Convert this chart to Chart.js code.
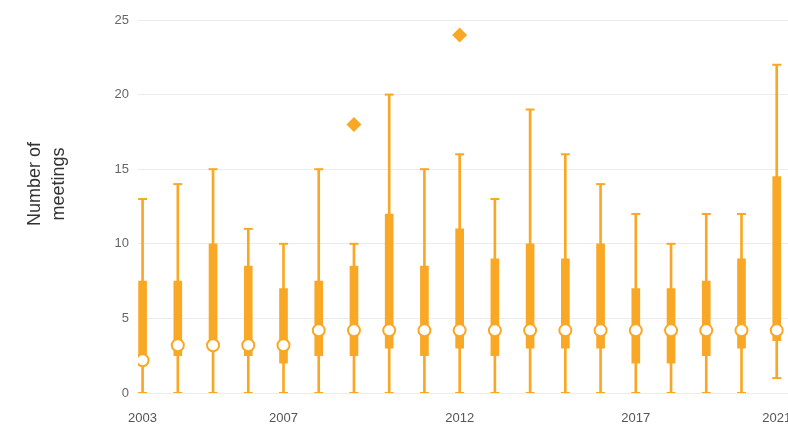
<!DOCTYPE html>
<html>
<head>
<meta charset="utf-8">
<script src="https://cdn.jsdelivr.net/npm/chart.js@4"></script>
<style>
  html, body { margin: 0; padding: 0; background: #fff; overflow: hidden; }
  #wrap { width: 788px; height: 426px; }
</style>
</head>
<body>
<div id="wrap"><canvas id="meetingsChart"></canvas></div>
<script>
// Yearly distribution of meetings (box plot)
var years   = [2003, 2004, 2005, 2006, 2007, 2008, 2009, 2010, 2011, 2012, 2013, 2014, 2015, 2016, 2017, 2018, 2019, 2020, 2021];
var mins    = [0, 0, 0, 0, 0, 0, 0, 0, 0, 0, 0, 0, 0, 0, 0, 0, 0, 0, 1];
var q1s     = [2, 2.5, 3, 2.5, 2, 2.5, 2.5, 3, 2.5, 3, 2.5, 3, 3, 3, 2, 2, 2.5, 3, 3.5];
var medians = [2.2, 3.2, 3.2, 3.2, 3.2, 4.2, 4.2, 4.2, 4.2, 4.2, 4.2, 4.2, 4.2, 4.2, 4.2, 4.2, 4.2, 4.2, 4.2];
var q3s     = [7.5, 7.5, 10, 8.5, 7, 7.5, 8.5, 12, 8.5, 11, 9, 10, 9, 10, 7, 7, 7.5, 9, 14.5];
var maxs    = [13, 14, 15, 11, 10, 15, 10, 20, 15, 16, 13, 19, 16, 14, 12, 10, 12, 12, 22];

var outlierYears  = [2009, 2012];
var outlierValues = [18, 24];

var tickYears = [2003, 2007, 2012, 2017, 2021];
var yTitle = ['Number of', 'meetings'];

var orange = '#f9a825';
var fontFamily = '"Liberation Sans", Arial, sans-serif';

var whiskerData = years.map((yr, i) => ({ x: yr, y: [mins[i], maxs[i]] }));
var boxData = years.map((yr, i) => ({ x: yr, y: [q1s[i], q3s[i]] }));
var capData = years.map((yr, i) => ({ x: yr, y: mins[i] }))
    .concat(years.map((yr, i) => ({ x: yr, y: maxs[i] })));
var medianData = years.map((yr, i) => ({ x: yr, y: medians[i] }));
var outlierData = outlierYears.map((yr, i) => ({ x: yr, y: outlierValues[i] }));

// Rotated two-line axis title on the left
var axisTitle = {
    id: 'axisTitle',
    afterDraw(chart) {
        const ctx = chart.ctx;
        ctx.save();
        ctx.translate(47, 184);
        ctx.rotate(-Math.PI / 2);
        ctx.font = '18px ' + fontFamily;
        ctx.fillStyle = '#333';
        ctx.textAlign = 'center';
        ctx.textBaseline = 'middle';
        ctx.fillText(yTitle[0], 0, -12);
        ctx.fillText(yTitle[1], 0, 12);
        ctx.restore();
    }
};

new Chart(document.getElementById('meetingsChart'), {
    type: 'bar',
    data: {
        datasets: [{
            type: 'bar',
            data: whiskerData,
            backgroundColor: orange,
            barThickness: 2,
            grouped: false,
            order: 5
        }, {
            type: 'bar',
            data: boxData,
            backgroundColor: orange,
            barThickness: 8,
            grouped: false,
            order: 4
        }, {
            type: 'scatter',
            data: capData,
            pointStyle: 'line',
            pointRadius: 4.5,
            borderColor: orange,
            borderWidth: 2,
            order: 3
        }, {
            type: 'scatter',
            data: medianData,
            pointStyle: 'circle',
            pointRadius: 6,
            backgroundColor: '#fff',
            borderColor: orange,
            borderWidth: 2,
            order: 2
        }, {
            type: 'scatter',
            data: outlierData,
            pointStyle: 'rectRot',
            pointRadius: 7.5,
            backgroundColor: orange,
            borderWidth: 0,
            order: 1
        }]
    },
    options: {
        responsive: true,
        maintainAspectRatio: false,
        animation: false,
        layout: {
            autoPadding: false,
            padding: { top: 20, right: 0, bottom: 0, left: 0 }
        },
        plugins: {
            legend: { display: false },
            tooltip: { enabled: false }
        },
        scales: {
            x: {
                type: 'linear',
                offset: false,
                min: 2002.87,
                max: 2021.32,
                grid: { display: false },
                border: { display: false },
                afterBuildTicks: (scale) => {
                    scale.ticks = tickYears.map(v => ({ value: v }));
                },
                afterFit: (scale) => {
                    // let the last year label run off the edge
                    scale.height = 33;
                    scale.paddingLeft = 0;
                    scale.paddingRight = 0;
                },
                ticks: {
                    padding: 10,
                    maxRotation: 0,
                    autoSkip: false,
                    color: '#555',
                    font: { family: fontFamily, size: 13 },
                    callback: (v) => String(v)
                }
            },
            y: {
                min: 0,
                max: 25,
                grid: { color: '#ececec', drawTicks: false },
                border: { display: false },
                afterFit: (scale) => { scale.width = 138; },
                ticks: {
                    stepSize: 5,
                    padding: 9,
                    color: '#666',
                    font: { family: fontFamily, size: 13 }
                }
            }
        }
    },
    plugins: [axisTitle]
});
</script>
</body>
</html>
